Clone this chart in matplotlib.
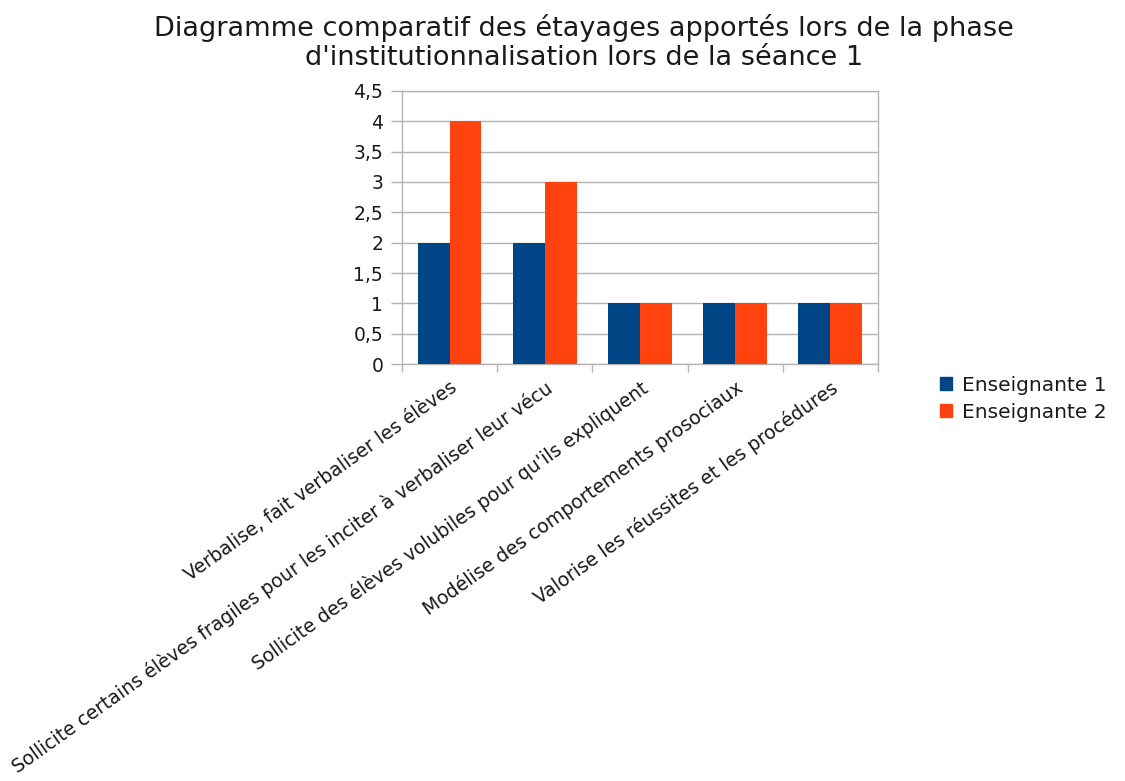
import matplotlib
matplotlib.use("Agg")
import matplotlib.pyplot as plt
import numpy as np
from matplotlib.ticker import FuncFormatter, MultipleLocator
from matplotlib.patches import Patch

plt.rcParams['font.family'] = ['DejaVu Sans']

categories = [
    "Verbalise, fait verbaliser les élèves",
    "Sollicite certains élèves fragiles pour les inciter à verbaliser leur vécu",
    "Sollicite des élèves volubiles pour qu'ils expliquent",
    "Modélise des comportements prosociaux",
    "Valorise les réussites et les procédures",
]
series_names = ["Enseignante 1", "Enseignante 2"]
enseignante_1 = [2, 2, 1, 1, 1]
enseignante_2 = [4, 3, 1, 1, 1]
colors = ["#004586", "#ff420e"]

fig = plt.figure(figsize=(11.25, 7.81), dpi=100)
ax = fig.add_axes([0.3573, 0.5339, 0.4231, 0.3496])

x = np.arange(len(categories))
w = 0.335
ax.bar(x - w / 2, enseignante_1, width=w, color=colors[0], zorder=3)
ax.bar(x + w / 2, enseignante_2, width=w, color=colors[1], zorder=3)

ax.set_xlim(-0.5, len(categories) - 0.5)
ax.set_ylim(0, 4.5)
ax.yaxis.set_major_locator(MultipleLocator(0.5))
ax.yaxis.set_major_formatter(FuncFormatter(lambda v, p: f"{v:g}".replace(".", ",")))
ax.grid(axis="y", color="#b3b3b3", linewidth=1, zorder=0)

# category labels at centers, tick marks at category boundaries
ax.set_xticks(x)
ax.set_xticklabels(categories, rotation=35.5, ha="right", rotation_mode="anchor",
                   fontsize=13.6, color="#1a1a1a")
ax.tick_params(axis="x", which="major", length=0, pad=10)
ax.set_xticks(np.arange(-0.5, len(categories), 1), minor=True)
ax.tick_params(axis="x", which="minor", length=6, color="#b3b3b3", width=1)
ax.tick_params(axis="y", length=8, color="#b3b3b3", width=1, labelsize=13.5,
               labelcolor="#1a1a1a", pad=5.5)

for s in ax.spines.values():
    s.set_color("#b3b3b3")
    s.set_linewidth(1)

fig.suptitle("Diagramme comparatif des étayages apportés lors de la phase\n"
             "d'institutionnalisation lors de la séance 1",
             x=0.519, y=0.982, fontsize=19.5, linespacing=1.15, color="#1a1a1a")

handles = [Patch(color=c, label=n) for c, n in zip(colors, series_names)]
leg = fig.legend(handles=handles, loc="upper left", bbox_to_anchor=(0.8356, 0.519),
                 frameon=False, fontsize=14.5, handlelength=0.6, handleheight=0.6,
                 handletextpad=0.5, labelspacing=0.4, borderpad=0, borderaxespad=0)
for t in leg.get_texts():
    t.set_color("#1a1a1a")

fig.savefig("out.png", dpi=100, facecolor="white")
